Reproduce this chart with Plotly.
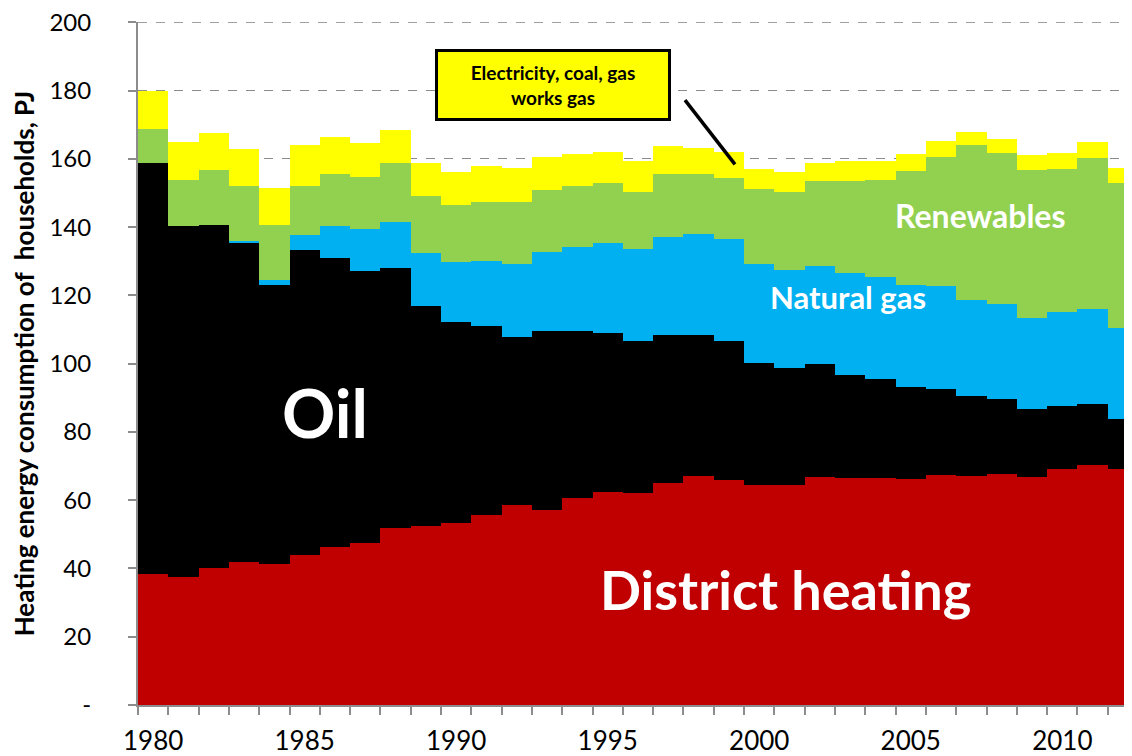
import plotly.graph_objects as go

years = list(range(1980, 2013))

district_heating = [38.4, 37.6, 40.1, 41.8, 41.4, 44.0, 46.3, 47.5, 51.8, 52.4, 53.3,
                    55.8, 58.5, 57.1, 60.6, 62.4, 62.0, 65.0, 67.2, 65.9, 64.6, 64.6,
                    66.9, 66.4, 66.4, 66.1, 67.3, 67.0, 67.7, 66.9, 69.1, 70.4, 69.1]
oil = [120.4, 102.8, 100.6, 93.6, 81.7, 89.3, 84.7, 79.7, 76.2, 64.6, 58.9,
       55.2, 49.4, 52.4, 48.9, 46.7, 44.5, 43.5, 41.3, 40.6, 35.6, 34.2,
       32.9, 30.4, 29.0, 27.0, 25.4, 23.6, 22.0, 19.7, 18.4, 17.9, 14.6]
natural_gas = [0.0, 0.0, 0.0, 0.5, 1.4, 4.4, 9.4, 12.3, 13.6, 15.5, 17.6,
               19.1, 21.4, 23.2, 24.7, 26.3, 27.2, 28.5, 29.5, 29.9, 29.0, 28.7,
               28.9, 29.7, 30.0, 29.9, 30.1, 28.2, 27.9, 26.9, 27.7, 27.8, 26.8]
renewables = [10.0, 13.5, 15.9, 16.2, 16.2, 14.4, 15.2, 15.2, 17.2, 16.6, 16.6,
              17.3, 18.1, 18.2, 17.9, 17.6, 16.7, 18.7, 17.7, 18.0, 22.0, 22.9,
              24.7, 26.9, 28.3, 33.5, 37.7, 45.2, 44.1, 43.1, 41.9, 44.1, 42.3]
other = [11.1, 11.1, 11.0, 10.7, 10.7, 11.9, 10.7, 10.0, 9.6, 9.7, 9.8,
         10.5, 10.0, 9.6, 9.3, 8.9, 8.9, 8.0, 7.5, 7.5, 5.7, 5.8,
         5.4, 5.9, 5.6, 4.9, 4.8, 4.0, 4.0, 4.5, 4.7, 4.7, 4.6]

series = [
    ("District heating", district_heating, "#C00000"),
    ("Oil", oil, "#000000"),
    ("Natural gas", natural_gas, "#00B0F0"),
    ("Renewables", renewables, "#92D050"),
    ("Electricity, coal, gas works gas", other, "#FFFF00"),
]

y_ticks = list(range(0, 201, 20))
y_ticktext = ["-"] + [str(v) for v in y_ticks[1:]]
x_labels = [1980, 1985, 1990, 1995, 2000, 2005, 2010]

fig = go.Figure()
for name, values, color in series:
    fig.add_trace(go.Bar(x=years, y=values, name=name,
                         marker=dict(color=color, line=dict(width=0))))

font = "Lato, 'Open Sans', sans-serif"

# page body adds 8px, so the figure is a bit smaller than the window
fig.update_layout(
    width=1124, height=748,
    margin=dict(l=130, r=0, t=14, b=51),
    barmode="stack", bargap=0,
    showlegend=False,
    plot_bgcolor="white", paper_bgcolor="white",
    font=dict(family=font, color="black"),
)

fig.update_xaxes(
    range=[1979.5, 2012.3], automargin=False,
    tickmode="array", tickvals=x_labels,
    ticks="", tickfont=dict(size=26), ticklabelstandoff=12,
    showline=True, linecolor="#8c8c8c", linewidth=2,
    showgrid=False, zeroline=False,
    minor=dict(tickmode="array", tickvals=[y - 0.5 for y in years] + [2012.5],
               ticks="outside", ticklen=8, tickcolor="#8c8c8c", tickwidth=1.5,
               showgrid=False),
)

fig.update_yaxes(
    range=[0, 200.1], automargin=False,
    tickmode="array", tickvals=y_ticks, ticktext=y_ticktext,
    ticks="outside", ticklen=8, tickcolor="#8c8c8c", tickwidth=1.5,
    tickfont=dict(size=24), ticklabelstandoff=32, ticklabeloverflow="allow",
    showline=True, linecolor="#8c8c8c", linewidth=2,
    showgrid=True, gridcolor="#8c8c8c", griddash="dash", gridwidth=1,
    zeroline=False,
    title=dict(text="<b>Heating energy consumption of  households, PJ</b>",
               font=dict(size=26), standoff=18),
)

# dashed gridline along the top edge, as in the source chart
fig.add_hline(y=200, line=dict(color="#8c8c8c", width=1, dash="dash"), layer="below")

labels = [
    ("<b>Oil</b>", 1985.67, 85.8, 66),
    ("<b>District heating</b>", 2000.85, 33.7, 54),
    ("<b>Natural gas</b>", 2002.93, 119.5, 31),
    ("<b>Renewables</b>", 2007.29, 143.5, 32),
]
for text, x, y, size in labels:
    fig.add_annotation(x=x, y=y, text=text, showarrow=False,
                       font=dict(size=size, color="white", family=font))

fig.add_annotation(
    x=1993.2, y=181.5, text="<b>Electricity, coal, gas<br>works gas</b>",
    showarrow=False, font=dict(size=19, color="black", family=font),
    bgcolor="#FFFF00", bordercolor="black", borderwidth=3, borderpad=2,
    width=226, height=62,
)
fig.add_shape(type="line", x0=1997.55, y0=177.2, x1=1999.2, y1=158.4,
              line=dict(color="black", width=3.5))

fig.write_html("out.html")
